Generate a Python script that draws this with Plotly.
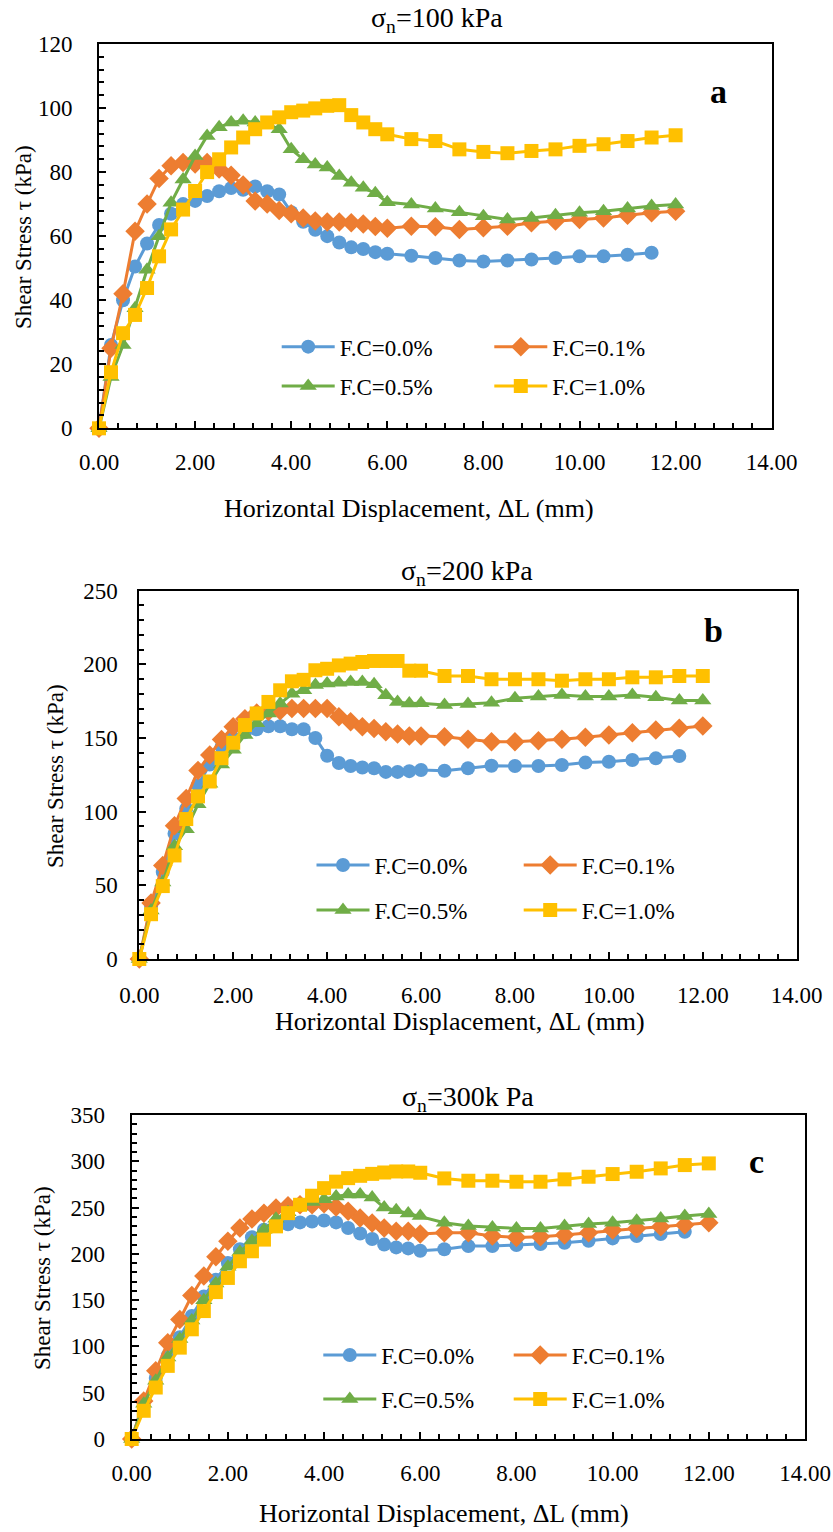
import plotly.graph_objects as go

# ---------------- data ----------------
X_LONG = [0.00, 0.25, 0.50, 0.75, 1.00, 1.25, 1.50, 1.75, 2.00, 2.25, 2.50, 2.75,
          3.00, 3.25, 3.50, 3.75, 4.00, 4.25, 4.50, 4.75, 5.00, 5.25, 5.50, 5.75,
          6.00, 6.50, 7.00, 7.50, 8.00, 8.50, 9.00, 9.50, 10.00, 10.50, 11.00,
          11.50, 12.00]
X_SHORT = [0.00, 0.25, 0.50, 0.75, 1.00, 1.25, 1.50, 1.75, 2.00, 2.25, 2.50, 2.75,
           3.00, 3.25, 3.50, 3.75, 4.00, 4.25, 4.50, 4.75, 5.00, 5.25, 5.50, 5.75,
           6.00, 6.50, 7.00, 7.50, 8.00, 8.50, 9.00, 9.50, 10.00, 10.50, 11.00,
           11.50]

SERIES_NAMES = ["F.C=0.0%", "F.C=0.1%", "F.C=0.5%", "F.C=1.0%"]

# sigma_n = 100 kPa
a_fc00 = [0, 26, 40, 50.5, 57.7, 63.5, 67, 70, 71, 72.5, 74, 75, 74.5, 75.5, 74, 73,
          67.5, 64.5, 62, 60, 58, 56.5, 56, 55, 54.5,
          53.9, 53.2, 52.4, 52.1, 52.4, 52.7, 53.2, 53.7, 53.7, 54.2, 54.8]
a_fc01 = [0, 25, 42, 61.5, 70, 78, 82, 83, 82.5, 83, 81, 79, 76, 71, 70, 68, 67,
          65.7, 64.7, 64.4, 64.4, 64.2, 63.8, 63, 62.5,
          63.1, 62.9, 62.1, 62.6, 63.1, 64.2, 64.7, 65.2, 65.7, 66.5, 67.3, 67.8]
a_fc05 = [0, 16, 26, 37.5, 49.5, 60, 70.4, 77.7, 85, 91.3, 94, 95.5, 96, 95.5, 95,
          93.4, 87.1, 84, 82.4, 81.4, 78.8, 76.7, 75.1, 73.4, 70.6,
          69.9, 68.6, 67.5, 66.2, 65.2, 65.7, 66.5, 67.3, 67.8, 68.6, 69.4, 69.9]
a_fc10 = [0, 17.5, 29.7, 35.4, 43.8, 53.7, 62.1, 68.3, 74.1, 80, 84, 87.7, 90.8,
          93.4, 95.5, 97.1, 98.7, 99.2, 99.9, 100.7, 100.9, 97.8, 95.5, 93.4, 91.8,
          90.3, 89.7, 87.1, 86.3, 85.9, 86.6, 87.1, 88.2, 88.7, 89.7, 90.8, 91.5]

# sigma_n = 200 kPa
b_fc00 = [0, 36, 59, 85, 102, 118, 132, 144, 150, 154, 156, 158, 158, 156, 156, 150,
          138, 133, 131, 130, 129.5, 127, 127, 127.5, 128.3,
          127.8, 129.5, 131.2, 131, 131, 131.7, 133.3, 133.9, 135.1, 136.2, 137.8]
b_fc01 = [0, 38, 63.5, 90.5, 109, 128, 138.5, 149, 157.7, 163, 167, 168, 168.5, 170,
          170, 170, 170, 164.4, 161, 157.7, 156.5, 154.3, 152.7, 151.4, 151.4,
          150.9, 149.2, 147.5, 147.5, 148.2, 149.2, 150.5, 152.1, 153.6, 155.5,
          156.6, 158.2]
b_fc05 = [0, 33, 52, 76.5, 88, 105, 119, 132, 142, 152, 160, 166.7, 173.4, 180,
          182.4, 186, 187, 187.5, 188, 188, 186.5, 179, 174.5, 173.5, 173.6,
          172.4, 173.1, 174, 177, 178.1, 179.2, 178.1, 178.1, 179.2, 177.7, 175.4,
          175.4]
b_fc10 = [0, 30.4, 49.5, 70.3, 95, 110.4, 120.5, 136.3, 146.8, 158.8, 166.7, 174.5,
          182.4, 188.5, 189.5, 196, 197, 199.3, 200.5, 201.6, 202.3, 202.3, 202.3,
          195.7, 195.7,
          192.1, 192.1, 189.9, 189.9, 189.9, 188.9, 189.9, 189.9, 191.2, 191.2,
          192.1, 192.1]

# sigma_n = 300 kPa
c_fc00 = [0, 40, 66, 90, 110, 133, 154, 172, 190, 205, 218, 226, 230, 232, 234, 235,
          236, 234, 228, 222, 216, 210, 207, 205.9, 203.4,
          204.9, 208.4, 208.4, 209.5, 210.6, 212, 214.1, 216.7, 219.2, 221.4, 223.9]
c_fc01 = [0, 41, 73.6, 104, 129, 155, 176, 197, 213.6, 228, 237.6, 244, 249.5, 252,
          253, 253, 254, 250.5, 245.9, 238.7, 233.3, 228, 224.3, 224.5, 221.4,
          222.8, 222.8, 219.2, 217.8, 218.5, 220.3, 222.8, 225.7, 227.5, 229.3,
          231.1, 233.6]
c_fc05 = [0, 38, 63, 88, 108, 128, 150, 168, 186, 202, 214, 226, 238, 245, 251, 256,
          259, 262, 264, 264, 261, 250, 247, 243.7, 240.8,
          233.6, 230, 228.6, 227.5, 227.5, 230, 232.2, 233.6, 235.7, 238.3, 240.8,
          243]
c_fc10 = [0, 30.5, 55.6, 79, 98.7, 118.5, 138.2, 158.7, 174, 192, 202.8, 215.4,
          229.7, 244, 253, 262.8, 271, 278, 281.8, 284.3, 286.4, 287.9, 289, 289,
          287.6,
          281.5, 279, 279, 277.9, 277.9, 280.5, 283.3, 286.2, 288.7, 292.3, 295.9,
          297.7]

PANEL_TITLES = ["σ<sub>n</sub>=100 kPa", "σ<sub>n</sub>=200 kPa", "σ<sub>n</sub>=300k Pa"]
PANEL_LETTERS = ["a", "b", "c"]
X_TITLE = "Horizontal Displacement, ΔL (mm)"
Y_TITLE = "Shear Stress τ (kPa)"
Y_MAX = [120, 250, 350]
Y_DTICK = [20, 50, 50]
Y_MINOR = [4, 10, 10]

# ---------------- styling / layout ----------------
W, H = 833, 1532
FONT = "Liberation Serif"
COLORS = ["#5B9BD5", "#ED7D31", "#70AD47", "#FFC000"]
SYMBOLS = ["circle", "diamond", "triangle-up", "square"]
MSIZE = [14, 15, 15, 14]


def fx(p):
    return p / W


def fy(p):
    return 1 - p / H


# plot areas in pixels: (left, right, top, bottom)
AREAS = [(99, 771.7, 44, 428.3), (139.3, 796.7, 590.7, 959), (131.7, 805, 1115, 1439)]
# legend item (line start x, row y) for col1 / col2 rows
LEG = [
    dict(cols=(281.7, 494.3), rows=(346.7, 386.0)),
    dict(cols=(316.5, 523.7), rows=(865.0, 910.0)),
    dict(cols=(323.3, 513.7), rows=(1355.0, 1399.0)),
]
TITLE_POS = [(437, 19), (467, 572), (468, 1098)]
XT_POS = [(409, 508), (460, 1022), (444, 1513)]
YT_POS = [(23, 237), (55, 776), (42, 1278)]
LETTER_POS = [(718, 92), (713, 631), (756, 1161)]
X_STANDOFF = [12, 14, 12]
Y_STANDOFF = [20, 15, 20]

DATA = [
    [a_fc00, a_fc01, a_fc05, a_fc10],
    [b_fc00, b_fc01, b_fc05, b_fc10],
    [c_fc00, c_fc01, c_fc05, c_fc10],
]

fig = go.Figure()
layout = dict(width=W, height=H, margin=dict(l=0, r=0, t=0, b=0, autoexpand=False),
              paper_bgcolor="white", plot_bgcolor="white", showlegend=True,
              font=dict(family=FONT, color="black"))
annotations = []
leg_count = 0
for p in range(3):
    sfx = "" if p == 0 else str(p + 1)
    l, r, t, b = AREAS[p]
    for s in range(4):
        yv = DATA[p][s]
        xv = X_SHORT if len(yv) == len(X_SHORT) else X_LONG
        leg_count += 1
        legname = "legend" if leg_count == 1 else "legend%d" % leg_count
        fig.add_trace(go.Scatter(
            x=xv, y=yv, mode="lines+markers", name=SERIES_NAMES[s],
            line=dict(color=COLORS[s], width=3),
            marker=dict(symbol=SYMBOLS[s], size=MSIZE[s], color=COLORS[s]),
            xaxis="x" + sfx, yaxis="y" + sfx, cliponaxis=False,
            legend=legname, showlegend=True,
        ))
        col = s % 2
        row = s // 2
        lx = LEG[p]["cols"][col] - 5
        ly = LEG[p]["rows"][row]
        layout[legname] = dict(
            x=fx(lx), y=fy(ly), xanchor="left", yanchor="middle",
            bgcolor="rgba(0,0,0,0)", borderwidth=0, itemwidth=53,
            font=dict(family=FONT, size=23, color="black"),
        )
    common = dict(showline=True, linecolor="black", linewidth=2, mirror=True,
                  ticks="inside", tickcolor="black", tickwidth=1.5, ticklen=7,
                  showgrid=False, zeroline=False, automargin=False,
                  tickfont=dict(family=FONT, size=23, color="black"))
    layout["xaxis" + sfx] = dict(
        common, domain=[fx(l), fx(r)], range=[0, 14], dtick=2, tick0=0,
        tickformat=".2f", anchor="y" + sfx, ticklabelstandoff=X_STANDOFF[p],
        minor=dict(dtick=0.4, ticks="inside", ticklen=5, tickcolor="black",
                   tickwidth=1.5, showgrid=False))
    layout["yaxis" + sfx] = dict(
        common, domain=[fy(b), fy(t)], range=[0, Y_MAX[p]], dtick=Y_DTICK[p],
        tick0=0, anchor="x" + sfx, ticklabelstandoff=Y_STANDOFF[p],
        minor=dict(dtick=Y_MINOR[p], ticks="inside", ticklen=5, tickcolor="black",
                   tickwidth=1.5, showgrid=False))
    annotations.append(dict(text=PANEL_TITLES[p], x=fx(TITLE_POS[p][0]), y=fy(TITLE_POS[p][1]),
                            xref="paper", yref="paper", showarrow=False,
                            xanchor="center", yanchor="middle",
                            font=dict(family=FONT, size=28, color="black")))
    annotations.append(dict(text=X_TITLE, x=fx(XT_POS[p][0]), y=fy(XT_POS[p][1]),
                            xref="paper", yref="paper", showarrow=False,
                            xanchor="center", yanchor="middle",
                            font=dict(family=FONT, size=26, color="black")))
    annotations.append(dict(text=Y_TITLE, x=fx(YT_POS[p][0]), y=fy(YT_POS[p][1]),
                            xref="paper", yref="paper", showarrow=False, textangle=-90,
                            xanchor="center", yanchor="middle",
                            font=dict(family=FONT, size=23, color="black")))
    annotations.append(dict(text="<b>%s</b>" % PANEL_LETTERS[p], x=fx(LETTER_POS[p][0]),
                            y=fy(LETTER_POS[p][1]), xref="paper", yref="paper",
                            showarrow=False, xanchor="center", yanchor="middle",
                            font=dict(family=FONT, size=34, color="black")))

layout["annotations"] = annotations
fig.update_layout(**layout)
fig.write_html("out.html")
